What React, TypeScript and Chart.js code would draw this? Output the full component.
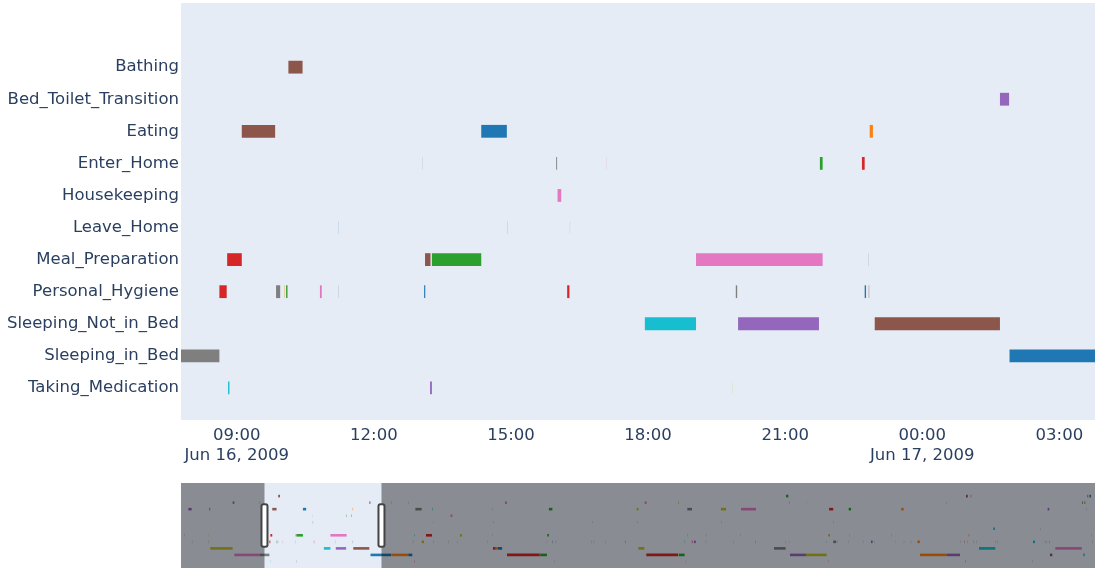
import React, { useEffect, useRef } from 'react';
import { Chart, registerables } from 'chart.js';

Chart.register(...registerables);

// Activity categories (top to bottom)
const activities = [
  'Bathing',
  'Bed_Toilet_Transition',
  'Eating',
  'Enter_Home',
  'Housekeeping',
  'Leave_Home',
  'Meal_Preparation',
  'Personal_Hygiene',
  'Sleeping_Not_in_Bed',
  'Sleeping_in_Bed',
  'Taking_Medication',
];

// Events: [start, end, colour] with times in hours from 2009-06-16 00:00
type Ev = [number, number, string];

const bathingEvents: Ev[] = [
  [10.13, 10.44, 'brown'], [96.93, 97.33, 'green'], [127.7, 128.0, 'brown'],
  [128.5, 128.6, 'purple'], [148.4, 148.6, 'orange'], [148.8, 149.06, 'blue'],
];
const bedToiletEvents: Ev[] = [
  [2.34, 2.63, 'gray'], [6.84, 6.87, 'blue'], [25.7, 25.9, 'purple'], [29.4, 29.44, 'green'],
  [32.37, 32.41, 'gray'], [48.9, 49.2, 'pink'], [72.77, 73.1, 'pink'], [78.5, 78.58, 'orange'],
  [97.5, 97.54, 'blue'], [100.4, 100.44, 'olive'], [124.3, 124.34, 'gray'],
  [147.55, 147.65, 'red'], [147.95, 148.08, 'green'],
];
const eatingEvents: Ev[] = [
  [-5.24, -4.67, 'purple'], [-1.7, -1.48, 'pink'], [9.11, 9.84, 'brown'], [14.35, 14.91, 'blue'],
  [22.85, 22.92, 'orange'], [33.57, 34.65, 'gray'], [36.47, 36.55, 'cyan'], [46.77, 46.83, 'pink'],
  [56.4, 57.0, 'green'], [71.4, 71.7, 'olive'], [80.06, 80.86, 'gray'], [85.8, 86.67, 'olive'],
  [89.24, 91.8, 'pink'], [104.3, 105.0, 'red'], [107.64, 108.04, 'green'], [116.64, 117.04, 'orange'],
  [141.65, 141.94, 'purple'], [148.3, 148.34, 'gray'],
];
const enterHomeEvents: Ev[] = [
  [13.06, 13.063, 'purple'], [15.99, 16.01, 'gray'], [17.09, 17.093, 'pink'],
  [21.76, 21.82, 'green'], [22.68, 22.74, 'red'], [39.6, 39.9, 'pink'],
];
const housekeepingEvents: Ev[] = [
  [16.02, 16.1, 'pink'], [36.62, 36.66, 'pink'], [46.88, 46.92, 'gray'], [63.88, 63.92, 'gray'],
  [71.58, 71.62, 'gray'], [85.85, 85.89, 'gray'], [104.98, 105.02, 'gray'],
];
const leaveHomeEvents: Ev[] = [
  [11.22, 11.223, 'blue'], [14.92, 14.923, 'blue'], [16.29, 16.293, 'orange'],
  [132.37, 132.65, 'cyan'], [140.38, 140.42, 'gray'],
];
const mealPrepEvents: Ev[] = [
  [-5.94, -5.9, 'gray'], [-1.84, -1.8, 'olive'], [8.79, 9.11, 'red'], [13.12, 13.24, 'brown'],
  [13.27, 14.35, 'green'], [19.05, 21.82, 'pink'], [22.83, 22.834, 'gray'], [33.38, 33.45, 'cyan'],
  [35.39, 36.42, 'red'], [41.2, 41.5, 'olive'], [46.68, 46.72, 'gray'], [56.13, 56.4, 'green'],
  [80.04, 80.08, 'gray'], [83.23, 83.27, 'gray'], [89.16, 89.2, 'gray'], [104.16, 104.45, 'olive'],
  [107.73, 107.77, 'gray'], [115.0, 115.04, 'gray'], [128.15, 128.25, 'orange'], [149.18, 149.22, 'gray'],
];
const hygieneEvents: Ev[] = [
  [-4.62, -4.58, 'gray'], [-1.84, -1.8, 'gray'], [8.62, 8.78, 'red'], [9.86, 9.95, 'gray'],
  [10.035, 10.042, 'orange'], [10.08, 10.11, 'green'], [10.82, 10.86, 'pink'], [11.22, 11.224, 'gray'],
  [13.1, 13.125, 'blue'], [16.23, 16.28, 'red'], [19.92, 19.95, 'gray'], [22.74, 22.77, 'blue'],
  [22.83, 22.838, 'brown'], [33.15, 33.2, 'gray'], [34.65, 35.05, 'olive'], [36.68, 36.73, 'cyan'],
  [39.18, 39.22, 'gray'], [40.73, 40.77, 'orange'], [45.88, 45.93, 'pink'], [56.05, 56.09, 'pink'],
  [56.98, 57.03, 'blue'], [57.58, 57.63, 'gray'], [63.68, 63.72, 'gray'], [64.08, 64.12, 'gray'],
  [66.03, 66.07, 'gray'], [69.4, 69.5, 'orange'], [79.53, 79.58, 'cyan'], [80.8, 81.0, 'pink'],
  [81.2, 81.5, 'purple'], [83.23, 83.27, 'gray'], [87.88, 87.92, 'gray'], [91.72, 91.77, 'green'],
  [96.78, 96.82, 'gray'], [97.48, 97.52, 'pink'], [103.86, 103.9, 'cyan'], [105.0, 105.5, 'gray'],
  [105.74, 105.78, 'gray'], [107.56, 107.6, 'pink'], [110.08, 110.12, 'gray'], [111.45, 111.74, 'purple'],
  [111.98, 112.02, 'gray'], [115.58, 115.62, 'pink'], [117.08, 117.12, 'gray'], [118.28, 118.32, 'gray'],
  [119.4, 119.8, 'orange'], [126.68, 126.72, 'gray'], [127.38, 127.43, 'red'], [127.98, 128.02, 'gray'],
  [128.98, 129.02, 'gray'], [129.48, 129.52, 'gray'], [132.7, 132.74, 'gray'], [133.05, 133.09, 'gray'],
  [139.15, 139.5, 'cyan'], [141.18, 141.22, 'gray'], [141.48, 141.53, 'purple'], [141.92, 141.97, 'green'],
  [149.28, 149.33, 'gray'],
];
const sleepingNotInBedEvents: Ev[] = [
  [-1.48, 2.34, 'olive'], [17.93, 19.05, 'cyan'], [19.97, 21.74, 'purple'], [22.96, 25.7, 'brown'],
  [46.84, 47.3, 'red'], [47.3, 47.7, 'orange'], [47.7, 48.4, 'blue'], [71.68, 72.71, 'olive'],
  [94.87, 96.87, 'gray'], [129.92, 132.71, 'cyan'], [142.96, 147.5, 'pink'],
];
const sleepingInBedEvents: Ev[] = [
  [2.63, 6.96, 'pink'], [6.96, 8.62, 'gray'], [25.91, 29.45, 'blue'], [29.5, 32.37, 'orange'],
  [32.37, 33.05, 'blue'], [49.24, 54.76, 'red'], [54.76, 54.99, 'brown'], [54.99, 56.07, 'green'],
  [73.05, 78.47, 'red'], [78.58, 79.6, 'green'], [97.6, 100.34, 'purple'], [100.34, 103.88, 'olive'],
  [119.83, 124.39, 'orange'], [124.39, 126.67, 'purple'], [142.05, 142.45, 'brown'], [147.75, 147.98, 'cyan'],
];
const medicationEvents: Ev[] = [
  [8.81, 8.84, 'cyan'], [13.23, 13.27, 'purple'], [19.84, 19.843, 'olive'], [33.4, 33.45, 'red'],
  [57.38, 57.42, 'gray'], [79.8, 79.86, 'pink'], [104.13, 104.19, 'pink'], [127.55, 127.6, 'blue'],
  [139.07, 139.11, 'gray'],
];

const activityEvents: Ev[][] = [
  bathingEvents, bedToiletEvents, eatingEvents, enterHomeEvents, housekeepingEvents,
  leaveHomeEvents, mealPrepEvents, hygieneEvents, sleepingNotInBedEvents, sleepingInBedEvents,
  medicationEvents,
];

const palette: Record<string, string> = {
  blue: '#1f77b4', orange: '#ff7f0e', green: '#2ca02c', red: '#d62728', purple: '#9467bd',
  brown: '#8c564b', pink: '#e377c2', gray: '#7f7f7f', olive: '#bcbd22', cyan: '#17becf',
};

// x axis (hours from 2009-06-16 00:00)
const viewRange = [7.78, 27.78];
const fullRange = [-6.49, 149.75];
const xTickValues = [9, 12, 15, 18, 21, 24, 27];
const xTickLabels = [
  ['09:00', 'Jun 16, 2009'], ['12:00'], ['15:00'], ['18:00'], ['21:00'], ['00:00', 'Jun 17, 2009'], ['03:00'],
];

const PLOT_BG = '#E5ECF6';
const TEXT = '#2a3f5f';
const FONT = 'Verdana, "DejaVu Sans", sans-serif';

function makeDataset(thickness: number) {
  const data: any[] = [];
  const colors: string[] = [];
  activityEvents.forEach((evs, row) => {
    evs.forEach(([s, e, c]) => {
      data.push({ x: [s, e], y: row });
      colors.push(palette[c]);
    });
  });
  return {
    data,
    backgroundColor: colors,
    borderWidth: 0,
    inflateAmount: 0,
    barThickness: thickness,
    grouped: false,
  };
}

const bgPlugin = {
  id: 'plotBg',
  beforeDraw(chart: any) {
    const { ctx, chartArea: a } = chart;
    ctx.save();
    ctx.fillStyle = PLOT_BG;
    ctx.fillRect(a.left, a.top, a.right - a.left, a.bottom - a.top);
    ctx.restore();
  },
};

const sliderPlugin = {
  id: 'sliderMask',
  afterDraw(chart: any) {
    const { ctx, chartArea: a } = chart;
    const xs = chart.scales.x;
    const l = xs.getPixelForValue(viewRange[0]);
    const r = xs.getPixelForValue(viewRange[1]);
    const h = a.bottom - a.top;
    ctx.save();
    ctx.fillStyle = 'rgba(0,0,0,0.4)';
    ctx.fillRect(a.left, a.top, l - a.left, h);
    ctx.fillRect(r, a.top, a.right - r, h);
    [l, r].forEach((x) => {
      ctx.beginPath();
      (ctx as any).roundRect(x - 3, a.top + h / 4, 6, h / 2, 2);
      ctx.fillStyle = '#ffffff';
      ctx.fill();
      ctx.lineWidth = 2;
      ctx.strokeStyle = '#444444';
      ctx.stroke();
    });
    ctx.restore();
  },
};

export default function App() {
  const mainRef = useRef<HTMLCanvasElement>(null);
  const sliderRef = useRef<HTMLCanvasElement>(null);

  useEffect(() => {
    const main = new Chart(mainRef.current as HTMLCanvasElement, {
      type: 'bar',
      data: { datasets: [makeDataset(12.8) as any] },
      options: {
        indexAxis: 'y',
        animation: false,
        responsive: false,
        maintainAspectRatio: false,
        layout: { padding: { top: 3, right: 11, left: 0, bottom: 0 } },
        plugins: { legend: { display: false }, tooltip: { enabled: false } },
        scales: {
          x: {
            type: 'linear',
            min: viewRange[0],
            max: viewRange[1],
            grid: { display: false, drawTicks: false },
            border: { display: false },
            afterBuildTicks: (s: any) => {
              s.ticks = xTickValues.map((v) => ({ value: v }));
            },
            afterFit: (s: any) => {
              s.height = 50;
              s.paddingLeft = 0;
              s.paddingRight = 0;
            },
            ticks: {
              autoSkip: false,
              maxRotation: 0,
              padding: 6,
              color: TEXT,
              font: { family: FONT, size: 16.5, lineHeight: 1.2 },
              callback: (_v: any, i: number) => xTickLabels[i],
            },
          },
          y: {
            type: 'linear',
            min: -2,
            max: 11,
            reverse: true,
            offset: false,
            grid: { display: false, drawTicks: false },
            border: { display: false },
            afterBuildTicks: (s: any) => {
              s.ticks = activities.map((_, i) => ({ value: i }));
            },
            afterFit: (s: any) => {
              s.width = 181;
              s.paddingTop = 0;
              s.paddingBottom = 0;
            },
            ticks: {
              autoSkip: false,
              padding: 2,
              color: TEXT,
              font: { family: FONT, size: 16.5 },
              callback: (v: any) => activities[v as number],
            },
          },
        },
      } as any,
      plugins: [bgPlugin],
    });

    const slider = new Chart(sliderRef.current as HTMLCanvasElement, {
      type: 'bar',
      data: { datasets: [makeDataset(2.6) as any] },
      options: {
        indexAxis: 'y',
        animation: false,
        responsive: false,
        maintainAspectRatio: false,
        layout: { padding: { top: 0, right: 11, left: 181, bottom: 0 } },
        plugins: { legend: { display: false }, tooltip: { enabled: false } },
        scales: {
          x: { type: 'linear', display: false, min: fullRange[0], max: fullRange[1] },
          y: { type: 'linear', display: false, min: -2, max: 11, reverse: true, offset: false },
        },
      } as any,
      plugins: [bgPlugin, sliderPlugin],
    });

    return () => {
      main.destroy();
      slider.destroy();
    };
  }, []);

  return (
    <div style={{ position: 'absolute', left: 0, top: 0, width: 1106, height: 585, background: '#fff' }}>
      <canvas
        ref={mainRef}
        width={1106}
        height={470}
        style={{ position: 'absolute', left: 0, top: 0, width: 1106, height: 470 }}
      />
      <canvas
        ref={sliderRef}
        width={1106}
        height={85}
        style={{ position: 'absolute', left: 0, top: 483, width: 1106, height: 85 }}
      />
    </div>
  );
}
